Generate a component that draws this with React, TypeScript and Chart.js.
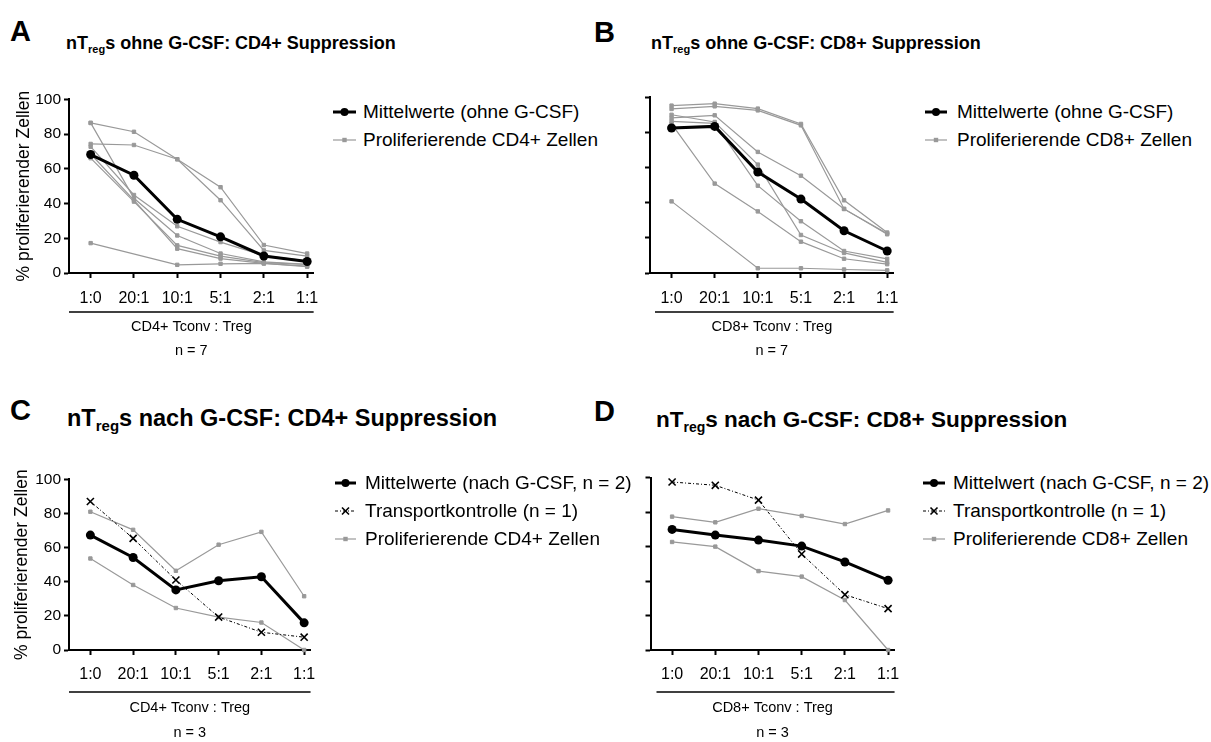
import React, { useEffect, useRef } from 'react';
import { Chart, registerables } from 'chart.js';

Chart.register(...registerables);

const FONT = '"Liberation Sans", Arial, Helvetica, sans-serif';
Chart.defaults.font.family = FONT;
Chart.defaults.color = '#000';

// ---------- data ----------
const ratios = ['1:0', '20:1', '10:1', '5:1', '2:1', '1:1'];
const yTitle = '% proliferierender Zellen';

// Panel A: nTregs ohne G-CSF, CD4+
const meanA = [68.2, 56.3, 30.9, 20.8, 9.8, 6.6];
const cd4A1 = [86.4, 81.3, 65.5, 49.4, 16.1, 11.2];
const cd4A2 = [74.3, 73.7, 65.5, 41.9, 13.0, 9.7];
const cd4A3 = [86.4, 43.0, 21.6, 11.2, 6.4, 5.0];
const cd4A4 = [72.7, 44.9, 26.9, 17.8, 10.0, 7.0];
const cd4A5 = [66.1, 41.1, 15.9, 9.7, 6.0, 5.0];
const cd4A6 = [68.5, 42.0, 14.0, 8.3, 5.5, 4.0];
const cd4A7 = [17.2, null, 4.7, 5.3, 5.5, 3.6];

// Panel B: nTregs ohne G-CSF, CD8+
const meanB = [82.4, 83.3, 57.4, 42.0, 24.0, 12.5];
const cd8B1 = [95.1, 96.2, 93.4, 84.7, 41.3, 23.0];
const cd8B2 = [93.2, 94.7, 92.4, 83.9, 36.4, 22.0];
const cd8B3 = [88.1, 89.6, 68.8, 55.3, 36.4, 22.5];
const cd8B4 = [89.9, 85.8, 61.6, 21.6, 11.4, 6.0];
const cd8B5 = [86.2, 85.0, 49.6, 29.4, 12.5, 8.0];
const cd8B6 = [84.7, 50.8, 35.0, 17.8, 8.1, 5.0];
const cd8B7 = [40.7, null, 2.7, 2.7, 2.0, 1.5];

// Panel C: nTregs nach G-CSF, CD4+
const meanC = [67.3, 54.2, 35.2, 40.6, 42.9, 15.9];
const transportC = [87.0, 65.4, 41.0, 19.3, 10.4, 7.5];
const cd4C1 = [81.0, 70.4, 46.4, 61.7, 69.2, 31.5];
const cd4C2 = [53.6, 38.1, 24.6, 19.3, 16.1, 0.0];

// Panel D: nTregs nach G-CSF, CD8+
const meanD = [70.0, 66.7, 63.8, 60.3, 51.1, 40.5];
const transportD = [97.5, 95.6, 87.0, 55.7, 32.1, 24.0];
const cd8D1 = [77.4, 74.1, 82.0, 77.8, 73.1, 81.0];
const cd8D2 = [62.7, 60.0, 45.8, 42.6, 29.0, 0.0];

// ---------- helpers ----------
const GRAY = '#999999';
const toPts = (vals: (number | null)[]) => vals.map((y, i) => ({ x: i, y }));

const meanDs = (vals: (number | null)[]) => ({
  data: toPts(vals),
  borderColor: '#000',
  backgroundColor: '#000',
  borderWidth: 3,
  pointStyle: 'circle',
  pointRadius: 4.5,
  pointBorderWidth: 0,
  pointBackgroundColor: '#000',
  spanGaps: true,
  clip: false,
});
const grayDs = (vals: (number | null)[]) => ({
  data: toPts(vals),
  borderColor: GRAY,
  backgroundColor: GRAY,
  borderWidth: 1.2,
  pointStyle: 'rect',
  pointRadius: 2.4,
  pointBorderWidth: 1,
  pointBorderColor: GRAY,
  pointBackgroundColor: GRAY,
  spanGaps: true,
  clip: false,
});
const transportDs = (vals: (number | null)[]) => ({
  data: toPts(vals),
  borderColor: '#000',
  backgroundColor: '#000',
  borderWidth: 1,
  borderDash: [3, 2, 1, 2],
  pointStyle: 'crossRot',
  pointRadius: 5,
  pointBorderWidth: 1.6,
  pointBorderColor: '#000',
  spanGaps: true,
  clip: false,
});

const underlinePlugin = {
  id: 'underline',
  afterDraw(chart: any, _args: any, opts: any) {
    const { ctx, chartArea } = chart;
    const y = chartArea.bottom + opts.offset;
    ctx.save();
    ctx.strokeStyle = '#000';
    ctx.lineWidth = 1.5;
    ctx.beginPath();
    ctx.moveTo(chartArea.left + (opts.inset || 0), y);
    ctx.lineTo(chartArea.right, y);
    ctx.stroke();
    ctx.restore();
  },
};

type PanelCfg = {
  left: number;
  top: number;
  w: number;
  h: number;
  padTop: number;
  padRight: number;
  yWidth: number;
  xHeight: number;
  showY: boolean;
  yTitlePad: number;
  xTickPad: number;
  underline: number;
  underlineInset: number;
  xTitle: string;
  nText: string;
  xTitleLH: number;
  xTitlePadB: number;
  datasets: any[];
};

function Panel({ cfg }: { cfg: PanelCfg }) {
  const ref = useRef<HTMLCanvasElement>(null);
  useEffect(() => {
    const gridOpts = {
      drawOnChartArea: false,
      drawTicks: true,
      tickLength: 5,
      tickWidth: 2,
      tickColor: '#000',
    };
    const borderOpts = { display: true, color: '#000', width: 2 };
    const chart = new Chart(ref.current as HTMLCanvasElement, {
      type: 'line',
      data: { datasets: cfg.datasets },
      options: {
        responsive: false,
        animation: false,
        devicePixelRatio: 1,
        layout: { padding: { top: cfg.padTop, right: cfg.padRight, left: 0, bottom: 0 } },
        plugins: {
          legend: { display: false },
          tooltip: { enabled: false },
          underline: { offset: cfg.underline, inset: cfg.underlineInset },
        } as any,
        scales: {
          x: {
            type: 'linear',
            min: -0.5,
            max: 5.15,
            afterBuildTicks: (s: any) => {
              s.ticks = ratios.map((_, i) => ({ value: i }));
            },
            afterFit: (s: any) => {
              s.height = cfg.xHeight;
            },
            ticks: {
              callback: (v: any) => ratios[v],
              font: { size: 16 },
              color: '#000',
              padding: cfg.xTickPad,
              autoSkip: false,
              maxRotation: 0,
            },
            grid: gridOpts,
            border: borderOpts,
            title: {
              display: true,
              text: [cfg.xTitle, cfg.nText],
              font: { size: 14.5, lineHeight: cfg.xTitleLH },
              color: '#000',
              padding: { top: 0, bottom: cfg.xTitlePadB },
            },
          },
          y: {
            type: 'linear',
            min: 0,
            max: 100,
            afterFit: (s: any) => {
              s.width = cfg.yWidth;
            },
            ticks: {
              stepSize: 20,
              display: cfg.showY,
              font: { size: 15.5 },
              color: '#000',
              padding: 3,
            },
            grid: gridOpts,
            border: borderOpts,
            title: {
              display: cfg.showY,
              text: yTitle,
              font: { size: 17.5, lineHeight: 1.2 },
              color: '#000',
              padding: { top: cfg.yTitlePad, bottom: 0 },
            },
          },
        },
      } as any,
      plugins: [underlinePlugin],
    });
    return () => chart.destroy();
  }, []);
  return (
    <canvas
      ref={ref}
      width={cfg.w}
      height={cfg.h}
      style={{ position: 'absolute', left: cfg.left, top: cfg.top, width: cfg.w, height: cfg.h }}
    />
  );
}

type MarkerKind = 'mean' | 'gray' | 'transport';

function Marker({ kind, w }: { kind: MarkerKind; w: number }) {
  const h = 20;
  const cy = h / 2;
  const cx = w / 2;
  if (kind === 'mean') {
    return (
      <svg width={w} height={h} style={{ display: 'block' }}>
        <line x1={0} y1={cy} x2={w} y2={cy} stroke="#000" strokeWidth={3} />
        <circle cx={cx} cy={cy} r={4} fill="#000" />
      </svg>
    );
  }
  if (kind === 'gray') {
    return (
      <svg width={w} height={h} style={{ display: 'block' }}>
        <line x1={0} y1={cy} x2={w} y2={cy} stroke={GRAY} strokeWidth={1.2} />
        <rect x={cx - 2.2} y={cy - 2.2} width={4.4} height={4.4} fill={GRAY} />
      </svg>
    );
  }
  return (
    <svg width={w} height={h} style={{ display: 'block' }}>
      <line x1={0} y1={cy} x2={w} y2={cy} stroke="#000" strokeWidth={1} strokeDasharray="3 2 1 2" />
      <line x1={cx - 3.5} y1={cy - 3.5} x2={cx + 3.5} y2={cy + 3.5} stroke="#000" strokeWidth={1.6} />
      <line x1={cx - 3.5} y1={cy + 3.5} x2={cx + 3.5} y2={cy - 3.5} stroke="#000" strokeWidth={1.6} />
    </svg>
  );
}

function Legend({
  left,
  centers,
  items,
  markerW,
  gap,
}: {
  left: number;
  centers: number[];
  items: { kind: MarkerKind; label: string }[];
  markerW: number;
  gap: number;
}) {
  return (
    <>
      {items.map((it, i) => (
        <div
          key={i}
          style={{
            position: 'absolute',
            left,
            top: centers[i] - 14,
            height: 28,
            display: 'flex',
            alignItems: 'center',
            fontSize: 19,
            lineHeight: '28px',
            whiteSpace: 'nowrap',
          }}
        >
          <Marker kind={it.kind} w={markerW} />
          <span style={{ marginLeft: gap }}>{it.label}</span>
        </div>
      ))}
    </>
  );
}

function Title({
  left,
  baseline,
  rest,
  size,
}: {
  left: number;
  baseline: number;
  rest: string;
  size: number;
}) {
  return (
    <div
      style={{
        position: 'absolute',
        left,
        top: baseline - 0.846 * size,
        fontSize: size,
        lineHeight: `${size}px`,
        fontWeight: 700,
        whiteSpace: 'nowrap',
      }}
    >
      nT
      <span style={{ fontSize: Math.round(size * 0.62), position: 'relative', top: size * 0.22 }}>reg</span>
      {rest}
    </div>
  );
}

function Letter({ left, baseline, ch }: { left: number; baseline: number; ch: string }) {
  return (
    <div
      style={{
        position: 'absolute',
        left,
        top: baseline - 24.5,
        fontSize: 29,
        lineHeight: '29px',
        fontWeight: 700,
      }}
    >
      {ch}
    </div>
  );
}

const panelA: PanelCfg = {
  left: 0, top: 87, w: 330, h: 280, padTop: 10, padRight: 12.4, yWidth: 69, xHeight: 94,
  showY: true, yTitlePad: 13.5, xTickPad: 11.4, underline: 39, underlineInset: 0,
  xTitle: 'CD4+ Tconv : Treg', nText: 'n = 7', xTitleLH: 1.655, xTitlePadB: 4,
  datasets: [meanDs(meanA), ...[cd4A1, cd4A2, cd4A3, cd4A4, cd4A5, cd4A6, cd4A7].map(grayDs)],
};
const panelB: PanelCfg = {
  left: 620, top: 87, w: 290, h: 280, padTop: 10, padRight: 11.4, yWidth: 30, xHeight: 94,
  showY: false, yTitlePad: 0, xTickPad: 11.4, underline: 39, underlineInset: 5,
  xTitle: 'CD8+ Tconv : Treg', nText: 'n = 7', xTitleLH: 1.655, xTitlePadB: 4,
  datasets: [meanDs(meanB), ...[cd8B1, cd8B2, cd8B3, cd8B4, cd8B5, cd8B6, cd8B7].map(grayDs)],
};
const panelC: PanelCfg = {
  left: 0, top: 467, w: 326, h: 282, padTop: 10.7, padRight: 12.4, yWidth: 69, xHeight: 99,
  showY: true, yTitlePad: 11.5, xTickPad: 10.4, underline: 42, underlineInset: 0,
  xTitle: 'CD4+ Tconv : Treg', nText: 'n = 3', xTitleLH: 1.72, xTitlePadB: 3.5,
  datasets: [meanDs(meanC), transportDs(transportC), grayDs(cd4C1), grayDs(cd4C2)],
};
const panelD: PanelCfg = {
  left: 620, top: 467, w: 290, h: 282, padTop: 10.7, padRight: 14.9, yWidth: 30.5, xHeight: 99,
  showY: false, yTitlePad: 0, xTickPad: 10.4, underline: 42, underlineInset: 6,
  xTitle: 'CD8+ Tconv : Treg', nText: 'n = 3', xTitleLH: 1.72, xTitlePadB: 3.5,
  datasets: [meanDs(meanD), transportDs(transportD), grayDs(cd8D1), grayDs(cd8D2)],
};

export default function App() {
  return (
    <div
      style={{
        position: 'fixed',
        left: 0,
        top: 0,
        width: 1211,
        height: 742,
        overflow: 'hidden',
        background: '#fff',
        fontFamily: FONT,
        color: '#000',
      }}
    >
      <Letter left={10} baseline={41} ch="A" />
      <Title left={66} baseline={49} size={18} rest="s ohne G-CSF: CD4+ Suppression" />
      <Letter left={594} baseline={42} ch="B" />
      <Title left={651} baseline={49} size={18} rest="s ohne G-CSF: CD8+ Suppression" />
      <Letter left={10} baseline={420} ch="C" />
      <Title left={67} baseline={427} size={23.5} rest="s nach G-CSF: CD4+ Suppression" />
      <Letter left={594} baseline={421} ch="D" />
      <Title left={656} baseline={428} size={22.5} rest="s nach G-CSF: CD8+ Suppression" />

      <Panel cfg={panelA} />
      <Panel cfg={panelB} />
      <Panel cfg={panelC} />
      <Panel cfg={panelD} />

      <Legend
        left={333}
        centers={[111.7, 140]}
        markerW={23}
        gap={7}
        items={[
          { kind: 'mean', label: 'Mittelwerte (ohne G-CSF)' },
          { kind: 'gray', label: 'Proliferierende CD4+ Zellen' },
        ]}
      />
      <Legend
        left={925}
        centers={[111.7, 140]}
        markerW={22}
        gap={10}
        items={[
          { kind: 'mean', label: 'Mittelwerte (ohne G-CSF)' },
          { kind: 'gray', label: 'Proliferierende CD8+ Zellen' },
        ]}
      />
      <Legend
        left={335}
        centers={[483.3, 510.7, 539]}
        markerW={21}
        gap={9}
        items={[
          { kind: 'mean', label: 'Mittelwerte (nach G-CSF, n = 2)' },
          { kind: 'transport', label: 'Transportkontrolle (n = 1)' },
          { kind: 'gray', label: 'Proliferierende CD4+ Zellen' },
        ]}
      />
      <Legend
        left={923}
        centers={[483.3, 510.7, 539]}
        markerW={22}
        gap={8}
        items={[
          { kind: 'mean', label: 'Mittelwert (nach G-CSF, n = 2)' },
          { kind: 'transport', label: 'Transportkontrolle (n = 1)' },
          { kind: 'gray', label: 'Proliferierende CD8+ Zellen' },
        ]}
      />
    </div>
  );
}
